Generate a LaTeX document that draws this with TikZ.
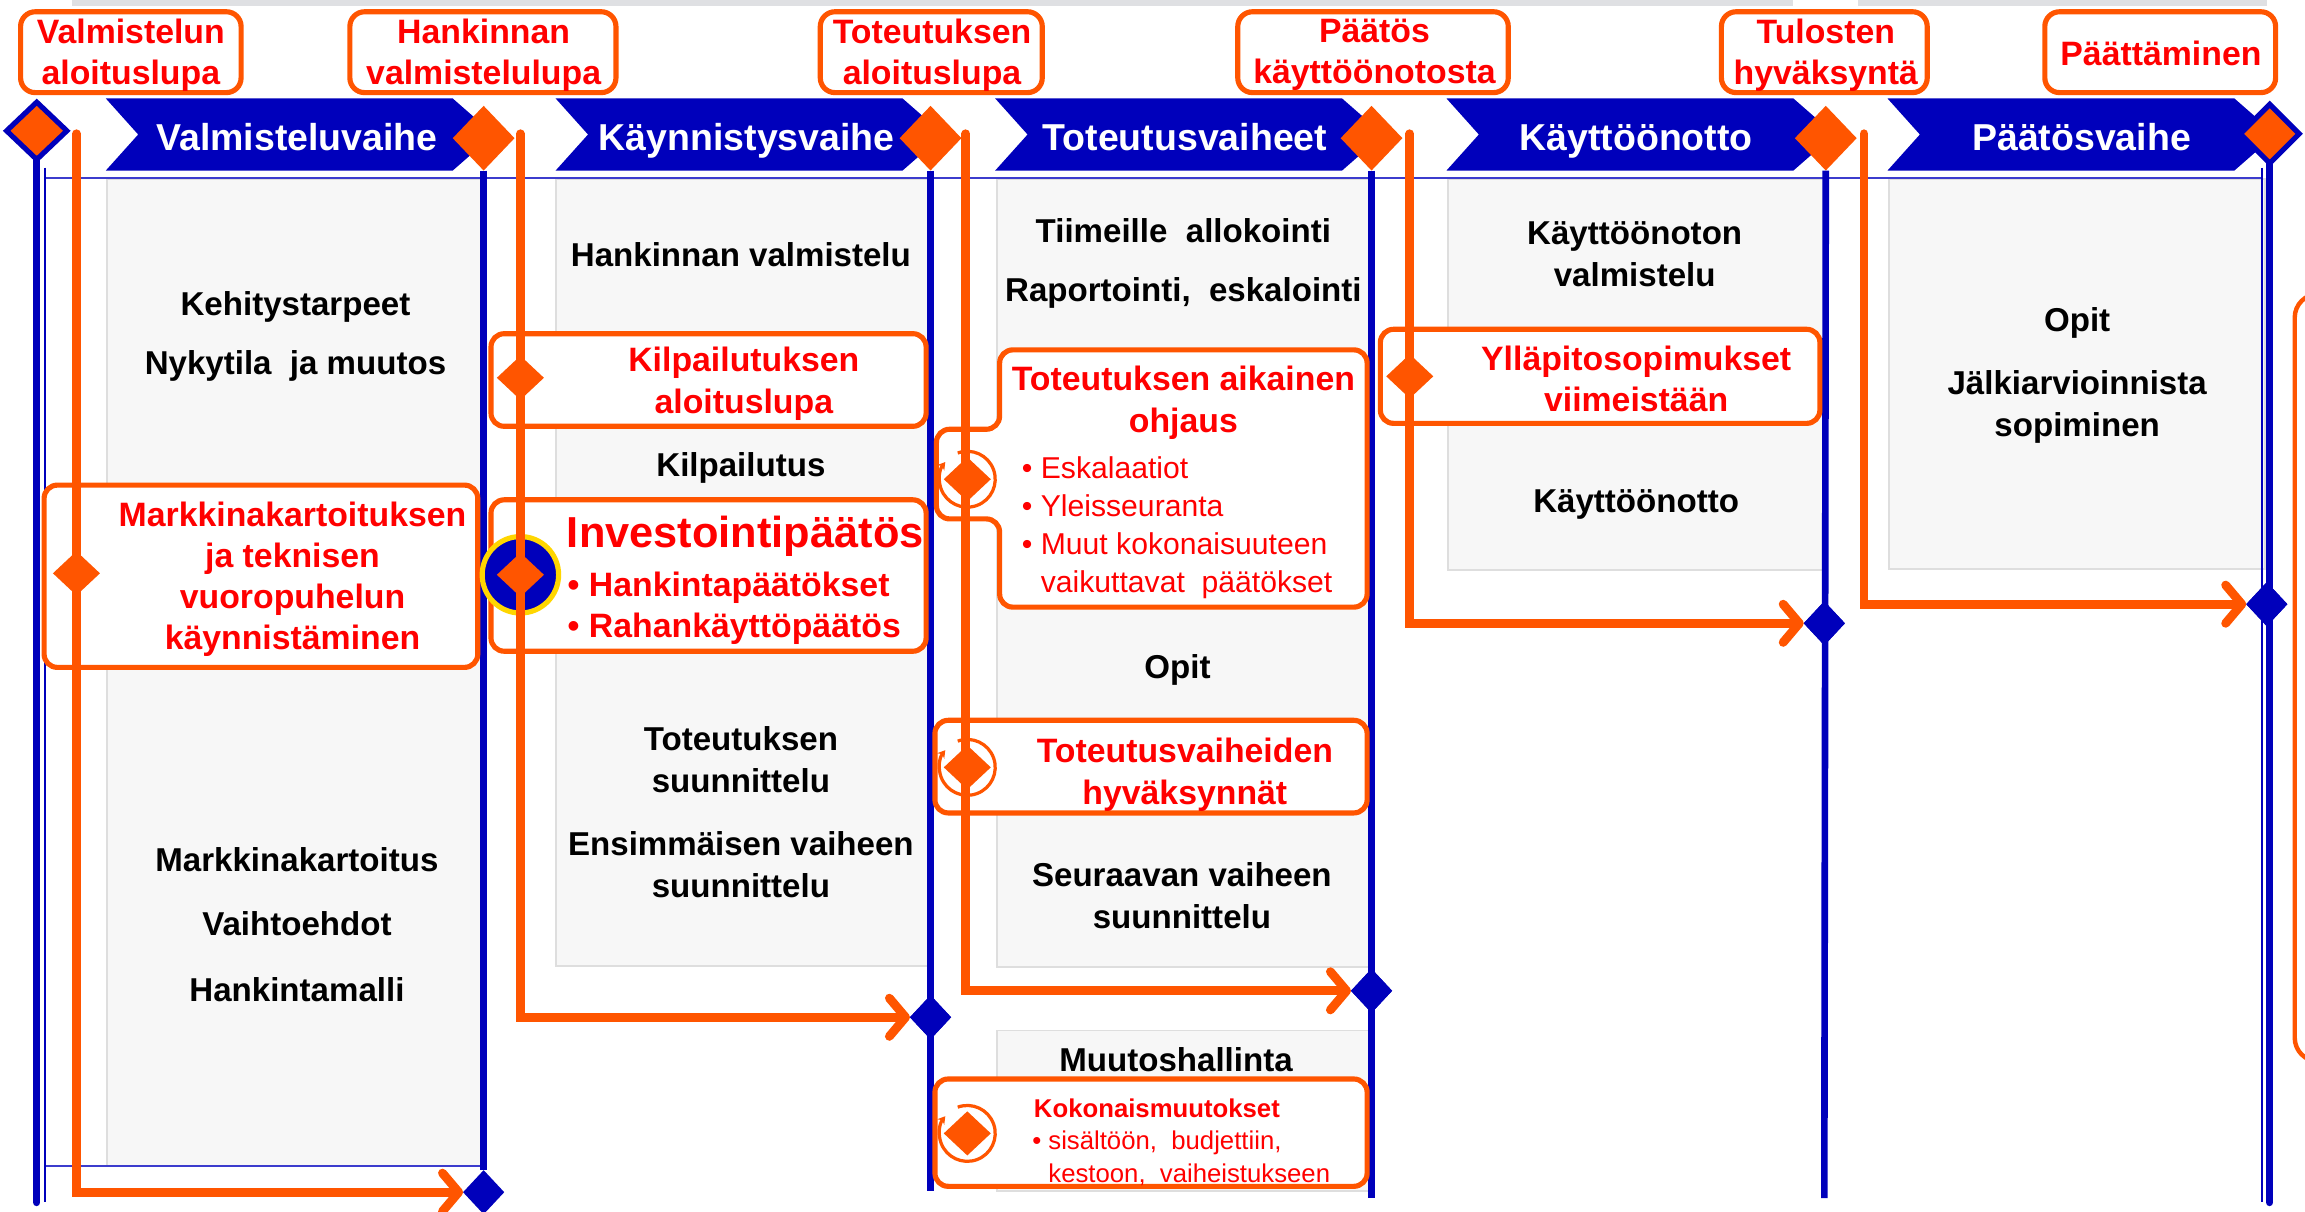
\documentclass[tikz,border=0pt]{standalone}
\usepackage{fontspec}
\setmainfont{Liberation Sans}
\usetikzlibrary{arrows.meta,shapes.geometric}
\definecolor{pblue}{RGB}{0,0,187}
\definecolor{pthin}{RGB}{60,60,205}
\definecolor{porange}{RGB}{255,85,0}
\definecolor{pred}{RGB}{255,0,0}
\definecolor{pgfill}{RGB}{247,247,247}
\definecolor{pgline}{RGB}{222,222,222}
\definecolor{pyellow}{RGB}{255,214,0}
\definecolor{ptop}{RGB}{223,224,227}
\begin{document}
\begin{tikzpicture}[x=1pt,y=-1pt,
  panel/.style={fill=pgfill,draw=pgline,line width=1.2},
  bline/.style={draw=pblue,line width=4.5},
  tline/.style={draw=pblue,line width=1.5},
  oline/.style={draw=porange,line width=6,line cap=round,line join=miter,
     -{Straight Barb[length=11pt,width=26pt,round]}},
  obox/.style={draw=porange,line width=3.5,rounded corners=9,fill=white},
  hbox/.style={draw=porange,line width=3.5,rounded corners=10,fill=white},
  hdiam/.style={diamond,fill=porange,minimum width=42,minimum height=44,inner sep=0,outer sep=0},
  idiam/.style={diamond,fill=porange,minimum width=32,minimum height=30,inner sep=0,outer sep=0},
  bdiam/.style={diamond,fill=pblue,minimum width=28,minimum height=30,inner sep=0,outer sep=0},
  body/.style={font=\bfseries\fontsize{22.5}{28.5}\selectfont,align=center,inner sep=0},
  rtext/.style={font=\bfseries\fontsize{23}{28}\selectfont,text=pred,align=center,inner sep=0},
  htext/.style={font=\bfseries\fontsize{25.5}{30}\selectfont,text=white,inner sep=0},
  ltext/.style={font=\fontsize{20.5}{26}\selectfont,text=pred,align=left,inner sep=0,anchor=west},
  cycsym/.pic={
    \draw[porange,line width=2.2,-{Stealth[length=5pt,width=6pt]}] (250:19) arc[start angle=250,end angle=578,radius=19];
  }
]
\useasboundingbox (0,0) rectangle (1568,824);
\fill[white] (0,0) rectangle (1568,824);
\begin{scope}
\clip (0,0) rectangle (1568,824);
% top grey strip
\fill[ptop] (49,0) rectangle (1220,4);
\fill[ptop] (1264,0) rectangle (1542,4);

% grey panels
\draw[panel] (73,122) rectangle (329,793);
\draw[panel] (378,122) rectangle (633,657);
\draw[panel] (678,122) rectangle (933,658);
\draw[panel] (678,701) rectangle (933,810);
\draw[panel] (985,122) rectangle (1241,388);
\draw[panel] (1285,122) rectangle (1541,387);

% thin frame lines
\draw[pthin,line width=1.5] (30.5,121) -- (1538.5,121);
\draw[pthin,line width=1.5] (30.5,793) -- (329,793);
\draw[tline] (30.5,114) -- (30.5,818);
\draw[tline] (1538.5,114) -- (1538.5,818);

% phase chevrons
\foreach \L in {72,378,677,984,1284}
  \fill[pblue] (\L,67) -- (\L+236,67) -- (\L+264,91.5) -- (\L+236,116) -- (\L,116) -- (\L+22,91.5) -- cycle;

% header diamonds
\node[hdiam,draw=pblue,line width=3.5,minimum width=41,minimum height=39] (D0) at (25,89) {};
\node[hdiam] (D1) at (329,94) {};
\node[hdiam] (D2) at (633,94) {};
\node[hdiam] (D3) at (933,94) {};
\node[hdiam] (D4) at (1242,94) {};
\node[hdiam,draw=pblue,line width=3.5,minimum width=40,minimum height=40] (D5) at (1544,91) {};

% blue small diamonds (targets)
\node[bdiam] (B1) at (329,811) {};
\node[bdiam] (B2) at (633,692) {};
\node[bdiam] (B3) at (933,674) {};
\node[bdiam] (B4) at (1241,424) {};
\node[bdiam] (B5) at (1542,411) {};

% blue vertical lines
\draw[pblue,line width=5,line cap=round] (D0.south) -- (25,818);
\draw[pblue,line width=5,line cap=round] (D5.south) -- (1544,818);
\draw[bline] (D1.south) -- (B1.north);
\draw[bline] (D2.south) -- (633,810);
\draw[bline] (D3.south) -- (933,815);
\draw[bline] (D4.south) -- (1241,815);
% target diamonds on top of the lines
\node[bdiam] at (B2) {};
\node[bdiam] at (B3) {};
\node[bdiam] at (B4) {};
\node[bdiam] at (B5) {};

% header milestone boxes
\draw[hbox] (14,8) rectangle (164,63);
\draw[hbox] (238,8) rectangle (419,63);
\draw[hbox] (558,8) rectangle (709,63);
\draw[hbox] (842,8) rectangle (1026,63);
\draw[hbox] (1171,8) rectangle (1311,63);
\draw[hbox] (1391,8) rectangle (1548,63);

% orange content boxes
\draw[obox] (30,330) rectangle (325,454);
\draw[obox] (334,227) rectangle (630,290);
\draw[obox] (334,340) rectangle (630,443);
\draw[obox] (680,238) -- (930,238) -- (930,413) -- (680,413) -- (680,353) -- (637,353) -- (637,292) -- (680,292) -- cycle;
\draw[obox] (636,490) rectangle (930,553);
\draw[obox] (636,734) rectangle (930,807);
\draw[obox] (939,224) rectangle (1238,288);
\draw[porange,line width=3,rounded corners=16] (1600,200) -- (1561,200) -- (1561,722) -- (1600,722);

% investment circle and cycle symbols
\node[circle,fill=pblue,draw=pyellow,line width=3.5,minimum size=52,inner sep=0] (IC) at (354,391) {};
\pic at (658,326) {cycsym};
\pic at (658,522) {cycsym};
\pic at (658,771) {cycsym};

% orange flow lines
\coordinate (a0) at (52,91);
\coordinate (b0) at (354,91);
\coordinate (c0) at (657,91);
\coordinate (d0) at (959,91);
\coordinate (e0) at (1268,91);
\draw[oline] (a0) |- (B1.west);
\draw[oline] (b0) |- (B2.west);
\draw[oline] (c0) |- (B3.west);
\draw[oline] (d0) |- (B4.west);
\draw[oline] (e0) |- (B5.west);

% milestone diamonds on lines
\node[idiam] (M1) at (52,390) {};
\node[idiam] (M2) at (354,257) {};
\node[idiam] (M3) at (354,391) {};
\node[idiam] (M4) at (658,326) {};
\node[idiam] (M5) at (658,522) {};
\node[idiam] (M6) at (658,771) {};
\node[idiam] (M7) at (959,256) {};
\end{scope}

% header box texts
\node[rtext] (h1) at (89,37.5) {Valmistelun\\aloituslupa};
\node[rtext] (h2) at (329,37.5) {Hankinnan\\valmistelulupa};
\node[rtext] (h3) at (634,37.5) {Toteutuksen\\aloituslupa};
\node[rtext] (h4) at (935,37.5) {Päätös\\käyttöönotosta};
\node[rtext] (h5) at (1242,37.5) {Tulosten\\hyväksyntä};
\node[rtext] (h6) at (1470,36) {Päättäminen};

% chevron labels
\node[htext] (p1) at (202,93) {Valmisteluvaihe};
\node[htext] (p2) at (508,96) {Käynnistysvaihe};
\node[htext] (p3) at (806,93) {Toteutusvaiheet};
\node[htext] (p4) at (1113,96) {Käyttöönotto};
\node[htext] (p5) at (1416,93) {Päätösvaihe};

% panel texts
\node[body] (t1) at (201,209) {Kehitystarpeet};
\node[body] (t2) at (201,249) {Nykytila\ \ ja muutos};
\node[body] (t3) at (202,585) {Markkinakartoitus};
\node[body] (t4) at (202,628) {Vaihtoehdot};
\node[body] (t5) at (202,673) {Hankintamalli};
\node[body] (t6) at (504,173) {Hankinnan valmistelu};
\node[body] (t7) at (504,318) {Kilpailutus};
\node[body] (t8) at (504,517) {Toteutuksen\\suunnittelu};
\node[body] (t9) at (504,588.5) {Ensimmäisen vaiheen\\suunnittelu};
\node[body] (t10) at (805,157) {Tiimeille\ \ allokointi};
\node[body] (t11) at (805,199) {Raportointi,\ \ eskalointi};
\node[body] (t12) at (801,456) {Opit};
\node[body] (t13) at (804,609) {Seuraavan vaiheen\\suunnittelu};
\node[body] (t14) at (800,721) {Muutoshallinta};
\node[body] (t15) at (1112,173) {Käyttöönoton\\valmistelu};
\node[body] (t16) at (1113,343) {Käyttöönotto};
\node[body] (t17) at (1413,220) {Opit};
\node[body] (t18) at (1413,277) {Jälkiarvioinnista\\sopiminen};

% red box texts
\node[rtext] (r1) at (199,394) {Markkinakartoituksen\\ja teknisen\\vuoropuhelun\\käynnistäminen};
\node[rtext] (r2) at (506,261) {Kilpailutuksen\\aloituslupa};
\node[rtext,font=\bfseries\fontsize{29.5}{34}\selectfont] (r3) at (507,365) {Investointipäätös};
\node[rtext,align=left,anchor=west] (r4) at (386,414) {• Hankintapäätökset\\• Rahankäyttöpäätös};
\node[rtext] (r5) at (805,274) {Toteutuksen aikainen\\ohjaus};
\node[ltext] (r6) at (695,359) {• Eskalaatiot\\• Yleisseuranta\\• Muut kokonaisuuteen\\\hphantom{• }vaikuttavat\ \ päätökset};
\node[rtext] (r7) at (806,527) {Toteutusvaiheiden\\hyväksynnät};
\node[rtext,font=\bfseries\fontsize{17.5}{22}\selectfont] (r8) at (787,754) {Kokonaismuutokset};
\node[ltext,font=\fontsize{17.5}{22}\selectfont] (r9) at (702,788) {• sisältöön,\ \ budjettiin,\\\hphantom{• }kestoon,\ \ vaiheistukseen};
\node[rtext] (r10) at (1113,258) {Ylläpitosopimukset\\viimeistään};
\end{tikzpicture}
\end{document}
